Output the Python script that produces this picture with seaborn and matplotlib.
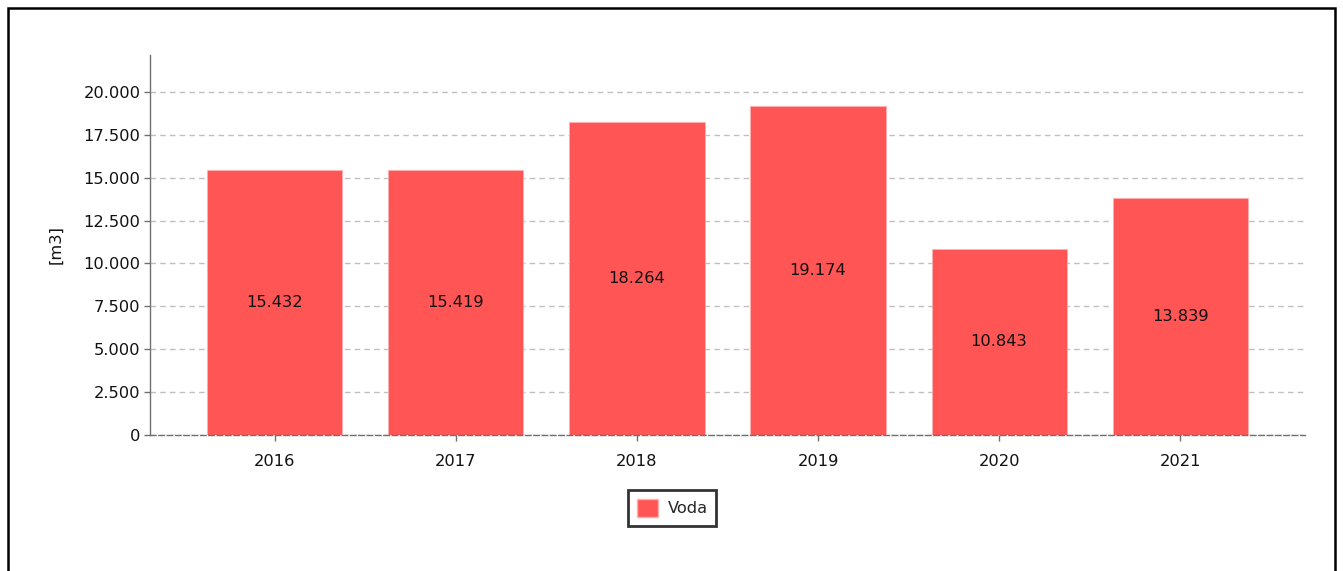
import matplotlib
matplotlib.use("Agg")
import matplotlib.pyplot as plt
import seaborn as sns
import pandas as pd
from matplotlib.ticker import FuncFormatter, MultipleLocator
from matplotlib.patches import Rectangle

years = ["2016", "2017", "2018", "2019", "2020", "2021"]
values = [15432, 15419, 18264, 19174, 10843, 13839]
value_labels = ["15.432", "15.419", "18.264", "19.174", "10.843", "13.839"]
series_name = "Voda"
y_label = "[m3]"

df = pd.DataFrame({"year": years, "value": values, "series": series_name})

sns.set_theme(style="white")
plt.rcParams['font.family'] = ['DejaVu Sans']

FS = 11.7
fig = plt.figure(figsize=(13.43, 5.71), dpi=100)
ax = fig.add_axes([150/1343, 1-435/571, (1305-150)/1343, (435-55)/571])

color = "#FF5555"
sns.barplot(data=df, x="year", y="value", hue="series", palette=[color],
            width=0.746, ax=ax, saturation=1, edgecolor="#ffb0b0", linewidth=0.6, legend=False)

ax.set_xlim(-0.69, 5.69)
ax.set_ylim(0, 22150)
ax.yaxis.set_major_locator(MultipleLocator(2500))
ax.yaxis.set_major_formatter(FuncFormatter(lambda v, p: f"{int(round(v)):,}".replace(",", ".")))
ax.grid(axis="y", color="#c0c0c0", linestyle=(0, (4, 3)), linewidth=1)
ax.set_axisbelow(True)

for s in ["top", "right"]:
    ax.spines[s].set_visible(False)
ax.spines["left"].set_color("#707070")
ax.spines["left"].set_linewidth(1)
ax.spines["bottom"].set_color("#707070")
ax.spines["bottom"].set_linewidth(1)
ax.spines["bottom"].set_linestyle((0, (4, 2)))

ax.tick_params(axis="both", which="major", length=4, width=1, color="#707070",
               labelsize=FS, labelcolor="#111111", direction="out", bottom=True, left=True)
ax.tick_params(axis="x", pad=10)
ax.tick_params(axis="y", pad=3)
ax.set_xlabel("")
ax.set_ylabel(y_label, fontsize=FS, color="#111111", labelpad=14)

for i, (v, lab) in enumerate(zip(values, value_labels)):
    ax.text(i, v / 2, lab, ha="center", va="center", fontsize=FS, color="#111111")

handle = Rectangle((0, 0), 1, 1, facecolor=color, edgecolor="#ffb0b0")
leg = fig.legend([handle], [series_name], loc="center", bbox_to_anchor=(672/1343, 1-508/571),
                 frameon=True, fancybox=False, fontsize=FS, handlelength=1.3, handleheight=1.4,
                 borderpad=0.5, handletextpad=0.6)
leg.get_frame().set_edgecolor("black")
leg.get_frame().set_linewidth(2)

# outer frame
fig.patches.append(Rectangle((8/1343, -0.05), (1335-8)/1343, 1.05 - 8/571, transform=fig.transFigure,
                             fill=False, edgecolor="black", linewidth=1.8))

fig.savefig("out.png", dpi=100)
